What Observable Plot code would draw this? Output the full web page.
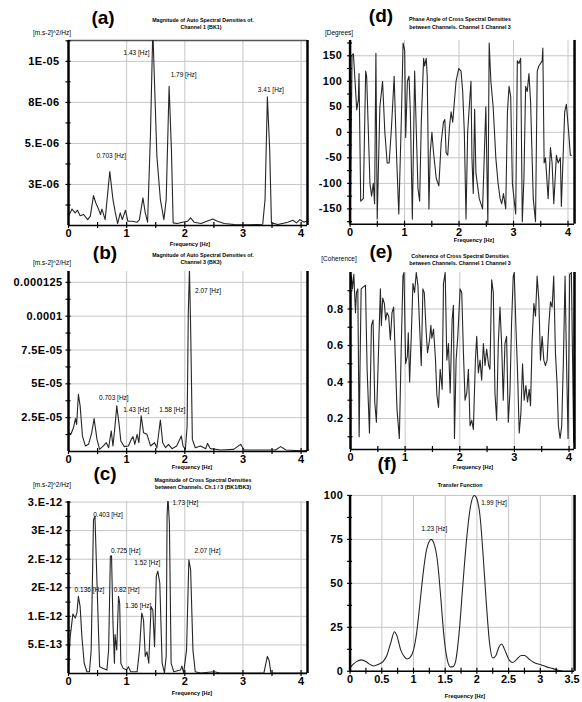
<!DOCTYPE html>
<html><head><meta charset="utf-8">
<script src="https://cdn.jsdelivr.net/npm/d3@7"></script>
<script src="https://cdn.jsdelivr.net/npm/@observablehq/plot@0.6"></script>
<style>
body{margin:0;background:#fff;}
#root{position:relative;width:582px;height:702px;overflow:hidden;font-family:"Liberation Sans",Arial,sans-serif;background:#fff;}
.t{position:absolute;white-space:nowrap;transform:translate(-50%,-50%);color:#000;line-height:1;}
.pl{font-family:"Liberation Sans Narrow","Liberation Sans",sans-serif;font-weight:bold;font-size:19px;}
.ti{font-size:5.3px;font-weight:bold;}
.un{font-size:6.5px;}
.fx{font-size:5.6px;font-weight:bold;}
.panel{position:absolute;}
.panel svg g[aria-label="y-axis tick label"] text{letter-spacing:0.4px;}
</style></head><body><div id="root"></div>
<script>
// ---------- data (frequency [Hz], value) ----------
const psdA = [[0,0.57],[0.06,1.0],[0.115,0.77],[0.155,0.93],[0.2,0.6],[0.26,0.67],[0.33,0.36],[0.375,0.57],[0.43,1.82],[0.47,1.37],[0.52,0.97],[0.55,0.67],[0.575,1.0],[0.63,0.36],[0.71,3.29],[0.765,1.58],[0.8,0.87],[0.845,0.12],[0.89,0.77],[0.925,0.36],[0.98,0.93],[1.02,0.26],[1.095,0.26],[1.18,0.2],[1.22,0.36],[1.28,1.68],[1.32,0.77],[1.36,0.2],[1.41,5.6],[1.45,12],[1.48,8.6],[1.52,4.2],[1.58,1.58],[1.64,0.36],[1.68,1.58],[1.73,8.48],[1.77,4.6],[1.8,0.16],[1.87,0.12],[1.96,0.2],[2.05,0.26],[2.1,0.46],[2.16,0.2],[2.28,0.12],[2.48,0.4],[2.56,0.26],[2.68,0.12],[2.85,0.06],[3.08,0.04],[3.34,0.08],[3.38,1.58],[3.42,7.84],[3.46,4.6],[3.49,0.16],[3.6,0.06],[3.77,0.2],[3.86,0.32],[3.92,0.16],[3.98,0.36],[4.05,0.2],[4.11,0.3]];
const psdB = [[0,1.39],[0.04,1.27],[0.086,1.76],[0.12,2.43],[0.14,2.0],[0.17,4.23],[0.2,3.37],[0.24,1.14],[0.29,0.41],[0.345,0.53],[0.4,1.39],[0.44,2.43],[0.49,0.9],[0.535,0.16],[0.6,0.41],[0.65,0.65],[0.69,0.28],[0.735,1.52],[0.765,0.41],[0.8,1.89],[0.83,3.37],[0.87,2.0],[0.9,0.78],[0.96,0.36],[1.03,0.41],[1.08,0.9],[1.11,1.1],[1.14,0.53],[1.18,1.27],[1.21,0.65],[1.25,2.63],[1.29,1.39],[1.35,1.27],[1.41,0.41],[1.48,0.65],[1.52,0.28],[1.58,2.33],[1.62,0.65],[1.67,0.28],[1.72,0.53],[1.78,0.21],[1.86,0.41],[1.94,1.14],[1.97,0.41],[2.01,0.16],[2.04,1.89],[2.06,10.22],[2.08,13.5],[2.1,9.28],[2.13,0.9],[2.18,0.28],[2.27,0.41],[2.36,0.21],[2.39,0.6],[2.44,0.21],[2.62,0.11],[2.84,0.16],[2.96,0.53],[3.02,0.11],[3.3,0.11],[3.56,0.11],[3.65,0.36],[3.74,0.11],[4.0,0.06],[4.11,0.08]];
const csdC = [[0,0.12],[0.03,0.65],[0.075,1.04],[0.115,0.97],[0.145,1.06],[0.17,1.35],[0.2,1.17],[0.23,0.65],[0.27,0.18],[0.316,0.03],[0.36,0.03],[0.39,0.41],[0.43,2.69],[0.455,2.75],[0.49,1.58],[0.535,0.12],[0.59,0.09],[0.66,0.06],[0.69,0.41],[0.72,2.05],[0.74,2.06],[0.765,0.88],[0.79,0.18],[0.8,0.68],[0.83,0.41],[0.86,1.35],[0.88,1.23],[0.9,0.18],[0.94,0.09],[1.0,0.06],[1.03,0.12],[1.07,0.03],[1.18,0.03],[1.22,0.41],[1.26,1.06],[1.29,0.94],[1.32,0.3],[1.35,0.38],[1.38,0.18],[1.42,1.17],[1.45,1.11],[1.48,0.47],[1.51,1.7],[1.535,1.79],[1.57,1.58],[1.61,0.18],[1.65,0.01],[1.68,0.3],[1.695,2.75],[1.71,3.1],[1.735,2.63],[1.765,0.18],[1.81,0.03],[1.925,0.06],[1.95,0.13],[1.98,0.01],[2.03,0.41],[2.07,1.99],[2.1,1.82],[2.14,0.41],[2.18,0.03],[2.27,0.01],[2.5,0.03],[2.61,0.01],[3.36,0.01],[3.42,0.3],[3.45,0.23],[3.48,0.01],[4.11,0.01]];
const phaseD = [[0,-10],[0.006,-150],[0.036,151],[0.061,154],[0.079,122],[0.122,44],[0.152,64],[0.164,115],[0.195,-135],[0.243,-130],[0.286,120],[0.304,110],[0.365,-100],[0.395,-125],[0.426,-100],[0.45,-140],[0.474,155],[0.498,-170],[0.547,50],[0.596,100],[0.638,0],[0.681,-60],[0.717,-60],[0.76,10],[0.809,110],[0.851,-40],[0.894,-160],[0.942,30],[0.973,175],[1.003,160],[1.021,-10],[1.052,100],[1.082,110],[1.106,40],[1.143,-170],[1.185,120],[1.216,0],[1.246,-110],[1.277,-135],[1.307,20],[1.35,145],[1.368,130],[1.398,145],[1.416,110],[1.447,-150],[1.471,-40],[1.502,0],[1.532,-40],[1.581,-90],[1.629,-105],[1.672,-20],[1.714,20],[1.739,25],[1.763,-40],[1.793,-45],[1.824,10],[1.854,40],[1.884,20],[1.945,100],[1.994,125],[2.036,120],[2.067,80],[2.097,0],[2.128,-170],[2.158,0],[2.188,50],[2.219,100],[2.237,-50],[2.261,-120],[2.286,45],[2.31,-80],[2.371,-130],[2.432,-150],[2.492,50],[2.529,-180],[2.553,175],[2.584,100],[2.626,50],[2.675,-50],[2.717,-100],[2.754,-130],[2.784,-140],[2.815,-120],[2.857,-150],[2.888,40],[2.918,90],[2.948,70],[2.979,-100],[3.04,-160],[3.07,140],[3.1,135],[3.131,145],[3.161,-175],[3.191,-90],[3.222,90],[3.252,80],[3.283,115],[3.313,60],[3.362,-130],[3.404,-175],[3.435,120],[3.465,130],[3.526,140],[3.538,165],[3.562,-60],[3.587,-50],[3.635,-130],[3.678,-30],[3.708,-60],[3.739,-140],[3.787,-45],[3.818,-60],[3.86,-50],[3.878,-145],[3.939,40],[3.97,55],[4.012,0],[4.043,-45],[4.061,-45]];
const cohE = [[0,0.92],[0.018,0.98],[0.036,0.91],[0.061,0.99],[0.091,0.78],[0.109,0.89],[0.134,0.91],[0.158,0.10],[0.176,0.52],[0.195,0.91],[0.231,0.92],[0.274,0.93],[0.304,0.47],[0.347,0.12],[0.383,0.71],[0.413,0.74],[0.444,0.29],[0.474,0.18],[0.505,0.49],[0.547,0.91],[0.565,0.71],[0.59,0.86],[0.62,0.83],[0.644,0.74],[0.669,0.78],[0.699,0.76],[0.729,0.63],[0.76,0.78],[0.79,0.81],[0.821,0.52],[0.851,0.25],[0.894,0.09],[0.93,0.61],[0.96,0.98],[0.979,1.0],[1.009,0.50],[1.04,0.54],[1.058,0.67],[1.082,0.40],[1.112,0.65],[1.143,0.94],[1.173,0.89],[1.204,1.0],[1.234,0.93],[1.264,0.71],[1.295,0.49],[1.325,0.91],[1.35,0.89],[1.386,0.67],[1.41,0.56],[1.447,0.63],[1.471,0.71],[1.489,0.64],[1.52,0.69],[1.556,0.52],[1.581,0.33],[1.611,0.26],[1.641,0.47],[1.678,0.36],[1.702,0.94],[1.733,1.0],[1.763,0.52],[1.793,0.61],[1.824,0.34],[1.86,0.74],[1.884,0.82],[1.903,0.09],[1.933,0.52],[1.964,0.65],[2.006,0.91],[2.036,0.89],[2.067,0.56],[2.097,0.30],[2.128,0.34],[2.158,0.47],[2.188,0.16],[2.219,0.19],[2.249,0.14],[2.286,0.52],[2.31,0.65],[2.34,0.45],[2.371,0.52],[2.401,0.41],[2.432,0.61],[2.462,0.49],[2.492,0.58],[2.529,0.49],[2.553,0.47],[2.584,0.96],[2.614,0.89],[2.644,0.34],[2.675,0.19],[2.705,0.61],[2.736,0.81],[2.766,0.61],[2.796,0.30],[2.827,0.61],[2.857,0.65],[2.888,0.18],[2.918,0.34],[2.948,0.72],[2.979,0.98],[2.997,1.0],[3.027,0.71],[3.058,0.45],[3.088,0.12],[3.119,0.23],[3.149,0.50],[3.179,0.30],[3.21,0.38],[3.24,0.29],[3.271,0.36],[3.295,0.27],[3.325,0.63],[3.356,0.83],[3.386,0.76],[3.416,0.98],[3.447,0.85],[3.477,0.52],[3.508,0.65],[3.538,0.52],[3.568,0.49],[3.599,0.52],[3.629,0.71],[3.66,0.84],[3.69,0.81],[3.72,0.98],[3.751,0.56],[3.781,0.39],[3.805,0.16],[3.836,0.09],[3.866,0.16],[3.897,0.52],[3.927,0.98],[3.951,0.56],[3.982,0.09],[4.012,0.99],[4.043,1.0],[4.061,0.60],[4.085,0.07],[4.103,1.0]];
const tfF = [[0,2],[0.05,4],[0.1,5.5],[0.18,6.5],[0.25,5.5],[0.3,4.2],[0.37,3],[0.45,4],[0.52,5.5],[0.58,9],[0.64,16],[0.7,22.5],[0.74,20],[0.8,12],[0.86,8],[0.9,7],[0.95,8],[1.0,12],[1.05,22],[1.1,38],[1.15,55],[1.2,68],[1.25,74],[1.28,75],[1.32,73],[1.38,62],[1.43,42],[1.48,20],[1.53,7],[1.58,2.5],[1.62,2.5],[1.66,5],[1.72,22],[1.78,50],[1.84,76],[1.9,94],[1.96,100],[2.0,98],[2.05,88],[2.1,65],[2.15,38],[2.2,16],[2.25,7.5],[2.3,9],[2.35,14],[2.39,15.5],[2.43,13],[2.5,7],[2.56,5],[2.62,6.5],[2.7,9],[2.75,9],[2.82,7],[2.9,5],[3.0,3.8],[3.1,2.5],[3.2,1.5],[3.28,0.5],[3.35,0.1]];

// peak annotations: [x, y, text]
const annA = [[1.17,10.54,"1.43 [Hz]"],[1.98,9.15,"1.79 [Hz]"],[3.48,8.24,"3.41 [Hz]"],[0.735,4.24,"0.703 [Hz]"]];
const annB = [[2.40,11.9,"2.07 [Hz]"],[0.78,3.93,"0.703 [Hz]"],[1.165,3.07,"1.43 [Hz]"],[1.785,3.07,"1.58 [Hz]"]];
const annC = [[0.68,2.77,"0.403 [Hz]"],[2.01,2.99,"1.73 [Hz]"],[0.985,2.15,"0.725 [Hz]"],[2.39,2.15,"2.07 [Hz]"],[1.355,1.93,"1.52 [Hz]"],[0.36,1.46,"0.136 [Hz]"],[1.0,1.46,"0.82 [Hz]"],[1.20,1.19,"1.36 [Hz]"]];
const annF = [[1.33,81,"1.23 [Hz]"],[2.27,95.7,"1.99 [Hz]"]];

// tick values and labels
const ticksX4 = [0,1,2,3,4];
const labelsX4 = ["0","1","2","3","4"];
const minorX4 = [0,0.5,1,1.5,2,2.5,3,3.5,4];
const ticksXF = [0,0.5,1,1.5,2,2.5,3,3.5];
const labelsXF = ["0","0.5","1","1.5","2","2.5","3","3.5"];
const minorXF = [0,0.25,0.5,0.75,1,1.25,1.5,1.75,2,2.25,2.5,2.75,3,3.25,3.5];
const ticksYA = [2.5,5,7.5,10];
const labelsYA = ["3E-06","5.E-06","8E-06","1E-05"];
const minorYA = [1.25,2.5,3.75,5,6.25,7.5,8.75,10,11.25];
const ticksYB = [2.5,5,7.5,10,12.5];
const labelsYB = ["2.5E-05","5E-05","7.5E-05","0.0001","0.000125"];
const minorYB = [1.25,2.5,3.75,5,6.25,7.5,8.75,10,11.25,12.5];
const ticksYC = [0.5,1,1.5,2,2.5,3];
const labelsYC = ["5.E-13","1.E-12","2E-12","2.E-12","3E-12","3.E-12"];
const minorYC = [0.25,0.5,0.75,1,1.25,1.5,1.75,2,2.25,2.5,2.75,3];
const ticksYD = [-150,-100,-50,0,50,100,150];
const labelsYD = ["-150","-100","-50","0","50","100","150"];
const minorYD = [-175,-150,-125,-100,-75,-50,-25,0,25,50,75,100,125,150,175];
const ticksYE = [0.2,0.4,0.6,0.8];
const labelsYE = ["0.2","0.4","0.6","0.8"];
const minorYE = [0.1,0.2,0.3,0.4,0.5,0.6,0.7,0.8,0.9];
const ticksYF = [0,25,50,75,100];
const labelsYF = ["0","25","50","75","100"];
const minorYF = [0,12.5,25,37.5,50,62.5,75,87.5,100];

const root = document.getElementById("root");

function panel(cfg) {
  const mL = 62, mR = 8, mT = 6, mB = 18;
  const W = cfg.R - cfg.L + mL + mR, H = cfg.B - cfg.T + mT + mB;
  const data = cfg.series.map(([x, y]) => ({x, y}));
  const ann = (cfg.ann || []).map(([x, y, t]) => ({x, y, t}));
  const yLab = new Map(cfg.yTicks.map((v, i) => [v, cfg.yLabels[i]]));
  const xLab = new Map(cfg.xTicks.map((v, i) => [v, cfg.xLabels[i]]));
  const marks = [
    Plot.gridX(cfg.xGrid, {stroke: "#c6c6c6", strokeOpacity: 1, strokeWidth: 1}),
    Plot.gridY(cfg.yTicks, {stroke: "#c6c6c6", strokeOpacity: 1, strokeWidth: 1}),
  ];
  if (cfg.topLine) marks.push(Plot.ruleY([cfg.yDomain[1]], {stroke: "#555", strokeWidth: 1.5}));
  marks.push(
    Plot.line(data, {x: "x", y: "y", stroke: "#262626", strokeWidth: 1.1, clip: true, curve: cfg.curve || "linear"}),
    Plot.text(ann, {x: "x", y: "y", text: "t", fontSize: 6.5, fill: "#000"}),
    Plot.ruleY([cfg.yDomain[0]], {stroke: "#000", strokeWidth: 1.6}),
    Plot.ruleX([cfg.xDomain[0]], {stroke: "#000", strokeWidth: 2.5}),
    Plot.ruleX([cfg.xDomain[1]], {stroke: "#000", strokeWidth: 2.5}),
    Plot.axisX(cfg.xMinor, {tickSize: 6, dy: -3, tickFormat: () => "", label: null, stroke: "#000", strokeWidth: 1.2}),
    Plot.axisY(cfg.yMinor, {tickSize: 5, dx: 2.5, tickFormat: () => "", label: null, stroke: "#000", strokeWidth: 1.2}),
    Plot.axisX(cfg.xTicks, {tickSize: 0, tickPadding: 4, tickFormat: d => xLab.get(d), fontSize: 11, fontWeight: "bold", label: null, fill: "#000"}),
    Plot.axisY(cfg.yTicks, {tickSize: 0, tickPadding: cfg.yPad, tickFormat: d => yLab.get(d), fontSize: 11, fontWeight: "bold", label: null, fill: "#000"})
  );
  const svg = Plot.plot({
    width: W, height: H,
    marginLeft: mL, marginRight: mR, marginTop: mT, marginBottom: mB,
    style: {background: "transparent", fontFamily: "'Liberation Sans', Arial, sans-serif", overflow: "visible", color: "#000"},
    x: {domain: cfg.xDomain, label: null},
    y: {domain: cfg.yDomain, label: null},
    marks
  });
  const div = document.createElement("div");
  div.className = "panel";
  div.style.left = (cfg.L - mL) + "px";
  div.style.top = (cfg.T - mT) + "px";
  div.appendChild(svg);
  root.appendChild(div);
}

panel({L: 68, T: 40, R: 307, B: 225, series: psdA, ann: annA, xDomain: [0, 4.11], yDomain: [0, 11.27],
  xTicks: ticksX4, xLabels: labelsX4, xMinor: minorX4, xGrid: [1,2,3,4], yTicks: ticksYA, yLabels: labelsYA, yMinor: minorYA, yPad: 9, topLine: true});
panel({L: 68, T: 271, R: 307, B: 451, series: psdB, ann: annB, xDomain: [0, 4.11], yDomain: [0, 13.3],
  xTicks: ticksX4, xLabels: labelsX4, xMinor: minorX4, xGrid: [1,2,3,4], yTicks: ticksYB, yLabels: labelsYB, yMinor: minorYB, yPad: 6});
panel({L: 68, T: 501, R: 307, B: 673, series: csdC, ann: annC, xDomain: [0, 4.11], yDomain: [0, 3.01],
  xTicks: ticksX4, xLabels: labelsX4, xMinor: minorX4, xGrid: [1,2,3,4], yTicks: ticksYC, yLabels: labelsYC, yMinor: minorYC, yPad: 6});
panel({L: 350, T: 40, R: 576, B: 225, series: phaseD, xDomain: [0, 4.12], yDomain: [-180, 180],
  xTicks: ticksX4, xLabels: labelsX4, xMinor: minorX4, xGrid: [1,2,3,4], yTicks: ticksYD, yLabels: labelsYD, yMinor: minorYD, yPad: 8});
panel({L: 350, T: 272, R: 574, B: 449, series: cohE, xDomain: [0, 4.1], yDomain: [0.03, 1.0],
  xTicks: ticksX4, xLabels: labelsX4, xMinor: minorX4, xGrid: [1,2,3,4], yTicks: ticksYE, yLabels: labelsYE, yMinor: minorYE, yPad: 7});
panel({L: 350, T: 495, R: 576, B: 672, series: tfF, ann: annF, xDomain: [0, 3.54], yDomain: [0, 100], curve: "monotone-x",
  xTicks: ticksXF, xLabels: labelsXF, xMinor: minorXF, xGrid: [0.5,1,1.5,2,2.5,3,3.5], yTicks: ticksYF, yLabels: labelsYF, yMinor: minorYF, yPad: 7});

// titles and captions
const overlay = [
  ["(a)",103,17,"pl"],["Magnitude of Auto Spectral Densities of.",203,21,"ti"],["Channel 1 (BK1)",201,28,"ti"],["[m.s-2]^2/Hz]",52,33,"un"],["Frequency [Hz]",190,245,"fx"],
  ["(b)",105,252,"pl"],["Magnitude of Auto Spectral Densities of.",203,256,"ti"],["Channel 3 (BK3)",201,263,"ti"],["[m.s-2]^2/Hz]",52,263,"un"],["Frequency [Hz]",192,468,"fx"],
  ["(c)",105,473,"pl"],["Magnitude of Cross Spectral Densities",203,481,"ti"],["between Channels. Ch.1 / 3 (BK1/BK3)",203,488,"ti"],["[m.s-2]^2/Hz]",52,485,"un"],["Frequency [Hz]",192,694,"fx"],
  ["(d)",381,15,"pl"],["Phase Angle of Cross Spectral Densities",460,20,"ti"],["between Channels. Channel 1 Channel 3",460,28,"ti"],["[Degrees]",339,33,"un"],["Frequency [Hz]",474,241,"fx"],
  ["(e)",381,251,"pl"],["Coherence of Cross Spectral Densities",460,257,"ti"],["between Channels. Channel 1 Channel 3",460,264,"ti"],["[Coherence]",339,259,"un"],["Frequency [Hz]",473,468,"fx"],
  ["(f)",387,463,"pl"],["Transfer Function",460,486,"ti"],["Frequency [Hz]",465,697,"fx"]
];
for (const [txt, x, y, cls] of overlay) {
  const d = document.createElement("div");
  d.className = "t " + cls;
  d.style.left = x + "px";
  d.style.top = y + "px";
  d.textContent = txt;
  root.appendChild(d);
}
</script></body></html>
